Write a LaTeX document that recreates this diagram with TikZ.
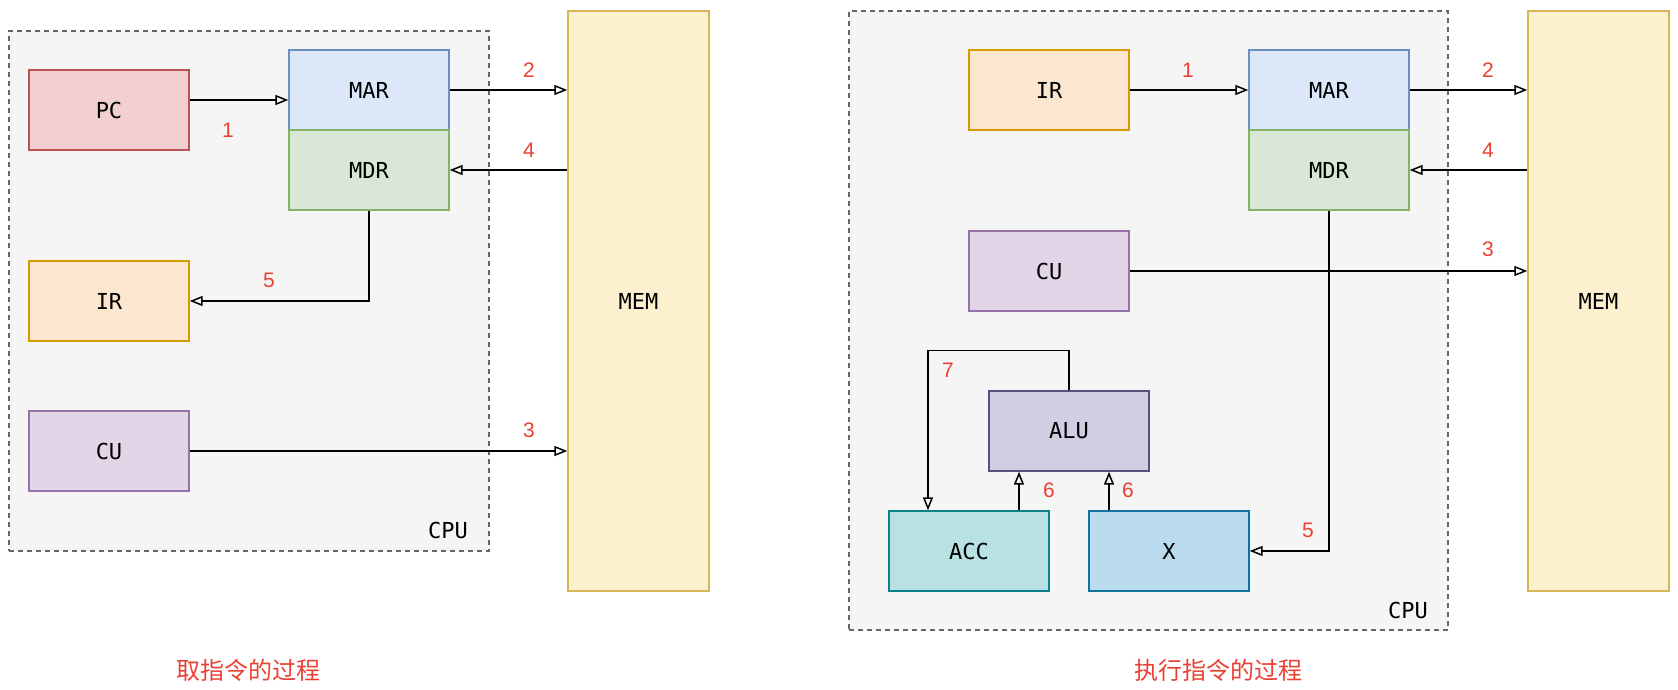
\documentclass[tikz,border=0pt]{standalone}
\usepackage{fontspec}
\setmainfont{Liberation Sans}
\setmonofont{DejaVu Sans Mono}
\newfontfamily\cjk{Noto Sans CJK SC}
\usetikzlibrary{arrows.meta}
\definecolor{pcfill}{HTML}{F3D0CF}\definecolor{pcdraw}{HTML}{B85450}
\definecolor{marfill}{HTML}{DCE7F9}\definecolor{mardraw}{HTML}{6C8EBF}
\definecolor{mdrfill}{HTML}{D9E7D6}\definecolor{mdrdraw}{HTML}{82B366}
\definecolor{irfill}{HTML}{FBE6CF}\definecolor{irdraw}{HTML}{D79B00}
\definecolor{cufill}{HTML}{E1D5E7}\definecolor{cudraw}{HTML}{9673A6}
\definecolor{memfill}{HTML}{FCF1CE}\definecolor{memdraw}{HTML}{D6B656}
\definecolor{cpufill}{HTML}{F5F5F5}\definecolor{cpudraw}{HTML}{666666}
\definecolor{alufill}{HTML}{D0CEE2}\definecolor{aludraw}{HTML}{56517E}
\definecolor{accfill}{HTML}{B8E1E3}\definecolor{accdraw}{HTML}{0E8088}
\definecolor{xfill}{HTML}{BADCEE}\definecolor{xdraw}{HTML}{10739E}
\definecolor{lblred}{RGB}{234,64,50}
\begin{document}
\begin{tikzpicture}[x=0.5pt,y=-0.5pt,
  reg/.style={draw, line width=0.7pt, minimum width=80pt, minimum height=40pt,
    inner sep=0pt, font=\ttfamily\fontsize{11}{13}\selectfont},
  mem/.style={reg, minimum width=70.5pt, minimum height=290pt, fill=memfill, draw=memdraw},
  cpubox/.style={draw=cpudraw, fill=cpufill, line width=0.65pt, dash pattern=on 2.5pt off 2pt, inner sep=0pt},
  cpulbl/.style={font=\ttfamily\fontsize{11}{13}\selectfont},
  num/.style={text=lblred, font=\fontsize{10.5}{12}\selectfont},
  ttl/.style={text=lblred, font=\cjk\fontsize{12}{14}\selectfont},
  arr/.style={line width=0.75pt, -{Triangle[open, length=6.5pt, width=5pt]}}
]
\useasboundingbox (0,0) rectangle (1678,690);
% ---------- left: fetch ----------
\node[cpubox, minimum width=240pt, minimum height=260pt] (cpuL) at (249,291) {};
\node[cpulbl] (cpuLt) at (448,530) {CPU};
\node[reg, fill=pcfill, draw=pcdraw] (pc) at (109,110) {PC};
\node[reg, fill=marfill, draw=mardraw] (marL) at (369,90) {MAR};
\node[reg, fill=mdrfill, draw=mdrdraw] (mdrL) at (369,170) {MDR};
\node[reg, fill=irfill, draw=irdraw] (irL) at (109,301) {IR};
\node[reg, fill=cufill, draw=cudraw] (cuL) at (109,451) {CU};
\node[mem] (memL) at (638.5,301) {MEM};
\coordinate (pcout) at ([yshift=5pt]pc.east);
\draw[arr] (pcout) -- (pcout -| marL.west);
\draw[arr] (marL.east) -- (marL.east -| memL.west);
\draw[arr] (mdrL.east -| memL.west) -- (mdrL.east);
\draw[arr] (mdrL.south) |- (irL.east);
\draw[arr] (cuL.east) -- (cuL.east -| memL.west);
\node[num] (l1) at (228,130) {1};
\node[num] (l2) at (529,70) {2};
\node[num] (l4) at (529,150) {4};
\node[num] (l5) at (269,280) {5};
\node[num] (l3) at (529,430) {3};
\node[ttl] (tL) at (248,670) {取指令的过程};
% ---------- right: execute ----------
\node[cpubox, minimum width=299.5pt, minimum height=309.5pt] (cpuR) at (1148.5,320.5) {};
\node[cpulbl] (cpuRt) at (1408,610) {CPU};
\node[reg, fill=irfill, draw=irdraw] (irR) at (1049,90) {IR};
\node[reg, fill=marfill, draw=mardraw] (marR) at (1329,90) {MAR};
\node[reg, fill=mdrfill, draw=mdrdraw] (mdrR) at (1329,170) {MDR};
\node[reg, fill=cufill, draw=cudraw] (cuR) at (1049,271) {CU};
\node[reg, fill=alufill, draw=aludraw] (alu) at (1069,431) {ALU};
\node[reg, fill=accfill, draw=accdraw] (acc) at (969,551) {ACC};
\node[reg, fill=xfill, draw=xdraw] (xr) at (1169,551) {X};
\node[mem] (memR) at (1598.5,301) {MEM};
\draw[arr] (irR.east) -- (marR.west);
\draw[arr] (marR.east) -- (marR.east -| memR.west);
\draw[arr] (mdrR.east -| memR.west) -- (mdrR.east);
\draw[arr] (cuR.east) -- (cuR.east -| memR.west);
\draw[arr] (mdrR.south) |- (xr.east);
\coordinate (accin) at ([xshift=-20.5pt]acc.north);
\draw[arr] (alu.north) -- ++(0,-40) -| (accin);
\coordinate (accout) at ([xshift=25pt]acc.north);
\draw[arr] (accout) -- (accout |- alu.south);
\coordinate (xout) at ([xshift=-30pt]xr.north);
\draw[arr] (xout) -- (xout |- alu.south);
\node[num] (r1) at (1188,70) {1};
\node[num] (r2) at (1488,70) {2};
\node[num] (r4) at (1488,150) {4};
\node[num] (r3) at (1488,249) {3};
\node[num] (r5) at (1308,530) {5};
\node[num] (r7) at (948,370) {7};
\node[num] (r6a) at (1049,490) {6};
\node[num] (r6b) at (1128,490) {6};
\node[ttl] (tR) at (1218,670) {执行指令的过程};
\end{tikzpicture}
\end{document}
